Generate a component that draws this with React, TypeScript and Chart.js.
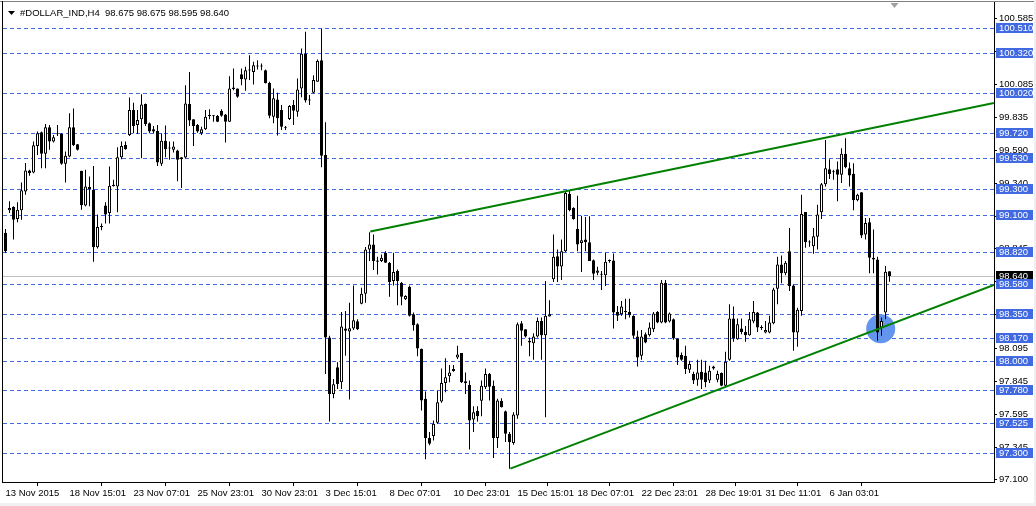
import React, { useEffect, useRef } from 'react';
import { Chart, registerables } from 'chart.js';

Chart.register(...registerables);

// ---- OHLC data (H4 bars, index 0 = 13 Nov 2015) ----
const opens = [
  98.965, 99.135, 99.161, 99.070, 99.135, 99.278, 99.436, 99.421, 99.622, 99.725,
  99.562, 99.762, 99.655, 99.712, 99.712, 99.487, 99.542, 99.762, 99.634, 99.434,
  99.171, 99.296, 99.291, 98.857, 99.010, 99.171, 99.115, 99.329, 99.316, 99.537,
  99.629, 99.705, 99.893, 99.780, 99.823, 99.938, 99.793, 99.747, 99.735, 99.487,
  99.660, 99.604, 99.592, 99.587, 99.537, 99.534, 99.938, 99.823, 99.780, 99.717,
  99.747, 99.848, 99.845, 99.848, 99.888, 99.860, 99.805, 100.063, 100.056, 100.164,
  100.124, 100.191, 100.181, 100.221, 100.221, 100.194, 100.098, 99.843, 99.973, 99.893,
  99.760, 99.825, 99.930, 99.880, 100.056, 100.319, 99.965, 100.023, 100.106, 100.269,
  99.554, 98.175, 97.748, 97.949, 97.836, 98.242, 98.220, 98.242, 98.298, 98.430,
  98.506, 98.839, 98.877, 98.756, 98.752, 98.814, 98.739, 98.601, 98.676, 98.588,
  98.463, 98.558, 98.350, 98.275, 98.087, 97.711, 97.415, 97.430, 97.530, 97.691,
  97.831, 97.881, 97.921, 98.024, 98.057, 97.844, 97.816, 97.555, 97.620, 97.696,
  97.798, 97.899, 97.811, 97.415, 97.696, 97.618, 97.447, 97.377, 97.585, 98.283,
  98.237, 98.150, 98.132, 98.182, 98.300, 98.192, 98.333, 98.614, 98.789, 98.710,
  98.827, 99.261, 99.153, 98.995, 98.889, 98.915, 98.895, 98.759, 98.664, 98.649,
  98.644, 98.752, 98.757, 98.368, 98.350, 98.368, 98.368, 98.338, 98.182, 98.037,
  98.200, 98.192, 98.237, 98.368, 98.288, 98.589, 98.295, 98.313, 98.167, 98.042,
  98.037, 97.931, 97.899, 97.856, 97.916, 97.911, 97.849, 97.941, 97.856, 97.906,
  97.811, 98.007, 98.318, 98.162, 98.242, 98.217, 98.192, 98.295, 98.363, 98.250,
  98.212, 98.212, 98.283, 98.543, 98.726, 98.659, 98.827, 98.568, 98.212, 98.375,
  99.123, 98.895, 98.864, 98.935, 99.120, 99.333, 99.446, 99.424, 99.446, 99.404,
  99.562, 99.454, 99.411, 99.211, 99.271, 98.952, 99.045, 98.777, 98.764, 98.250,
  98.363, 98.675,
];
const highs = [
  98.995, 99.203, 99.166, 99.196, 99.346, 99.492, 99.441, 99.655, 99.730, 99.730,
  99.788, 99.780, 99.705, 99.780, 99.717, 99.579, 99.868, 99.905, 99.637, 99.434,
  99.441, 99.391, 99.471, 99.103, 99.035, 99.196, 99.466, 99.366, 99.612, 99.655,
  99.655, 99.988, 99.948, 99.893, 100.013, 99.943, 99.798, 99.772, 99.780, 99.717,
  99.777, 99.655, 99.655, 99.592, 99.537, 100.081, 100.181, 99.823, 99.788, 99.767,
  99.893, 99.898, 99.855, 99.855, 99.898, 99.862, 100.149, 100.206, 100.056, 100.206,
  100.219, 100.307, 100.257, 100.269, 100.244, 100.199, 100.106, 100.056, 100.023, 99.930,
  99.772, 99.930, 99.968, 100.131, 100.357, 100.485, 100.006, 100.156, 100.274, 100.507,
  99.800, 98.187, 97.861, 97.987, 98.368, 98.375, 98.438, 98.568, 98.313, 98.551,
  98.859, 98.970, 98.952, 98.784, 98.802, 98.827, 98.744, 98.814, 98.689, 98.593,
  98.493, 98.568, 98.363, 98.283, 98.092, 97.766, 97.460, 97.548, 97.773, 97.941,
  98.017, 97.966, 97.966, 98.112, 98.057, 97.911, 97.849, 97.656, 97.656, 97.849,
  97.941, 97.906, 97.849, 97.711, 97.716, 97.623, 97.460, 97.610, 98.288, 98.300,
  98.237, 98.175, 98.207, 98.325, 98.325, 98.601, 98.456, 98.952, 98.839, 98.914,
  99.278, 99.286, 99.158, 99.246, 99.095, 99.085, 99.090, 98.764, 98.709, 98.676,
  98.814, 98.764, 98.809, 98.413, 98.451, 98.468, 98.468, 98.343, 98.225, 98.232,
  98.212, 98.288, 98.368, 98.375, 98.609, 98.609, 98.363, 98.318, 98.167, 98.062,
  98.112, 97.999, 97.916, 98.007, 98.007, 97.999, 97.962, 97.962, 97.924, 97.911,
  98.067, 98.426, 98.408, 98.318, 98.318, 98.262, 98.368, 98.451, 98.368, 98.268,
  98.300, 98.338, 98.551, 98.784, 98.794, 98.752, 99.002, 98.576, 98.400, 99.253,
  99.123, 98.910, 99.002, 99.178, 99.341, 99.667, 99.522, 99.441, 99.504, 99.604,
  99.680, 99.496, 99.491, 99.261, 99.271, 99.078, 99.078, 98.990, 98.784, 98.325,
  98.714, 98.675,
];
const lows = [
  98.814, 99.115, 98.915, 99.045, 99.065, 99.253, 99.396, 99.416, 99.554, 99.454,
  99.454, 99.592, 99.647, 99.697, 99.479, 99.346, 99.537, 99.622, 99.587, 99.140,
  99.166, 99.166, 98.747, 98.847, 98.985, 99.035, 99.035, 99.316, 99.120, 99.522,
  99.592, 99.697, 99.717, 99.712, 99.529, 99.772, 99.717, 99.717, 99.471, 99.471,
  99.537, 99.517, 99.572, 99.354, 99.303, 99.529, 99.772, 99.622, 99.722, 99.705,
  99.742, 99.823, 99.805, 99.803, 99.843, 99.647, 99.805, 100.043, 99.986, 100.081,
  100.038, 100.119, 100.086, 100.199, 100.194, 100.093, 99.830, 99.793, 99.700, 99.742,
  99.742, 99.818, 99.780, 99.843, 99.990, 99.950, 99.930, 100.018, 100.106, 99.461,
  97.899, 97.540, 97.716, 97.786, 97.786, 98.037, 97.706, 98.232, 98.232, 98.425,
  98.438, 98.752, 98.684, 98.651, 98.744, 98.739, 98.483, 98.568, 98.418, 98.418,
  98.458, 98.333, 98.225, 98.032, 97.623, 97.254, 97.360, 97.397, 97.523, 97.681,
  97.761, 97.836, 97.916, 98.012, 97.831, 97.748, 97.329, 97.460, 97.540, 97.580,
  97.786, 97.698, 97.264, 97.340, 97.645, 97.385, 97.184, 97.365, 97.560, 98.112,
  98.175, 98.032, 98.007, 98.175, 98.007, 97.573, 98.333, 98.593, 98.593, 98.609,
  98.820, 99.128, 99.065, 98.827, 98.669, 98.827, 98.752, 98.609, 98.644, 98.533,
  98.563, 98.739, 98.242, 98.300, 98.338, 98.313, 98.325, 98.167, 97.956, 98.007,
  98.132, 98.182, 98.217, 98.283, 98.283, 98.283, 98.288, 98.157, 97.967, 97.999,
  97.899, 97.906, 97.823, 97.811, 97.786, 97.798, 97.831, 97.931, 97.836, 97.806,
  97.806, 97.999, 98.142, 98.157, 98.200, 98.142, 98.187, 98.283, 98.217, 98.232,
  98.207, 98.207, 98.275, 98.426, 98.584, 98.644, 98.526, 98.075, 98.105, 98.338,
  98.852, 98.860, 98.807, 98.839, 99.070, 99.316, 99.371, 99.366, 99.203, 99.341,
  99.454, 99.316, 99.135, 99.203, 98.927, 98.915, 98.659, 98.659, 98.150, 98.187,
  98.313, 98.595,
];
const closes = [
  98.827, 99.153, 99.065, 99.140, 99.286, 99.436, 99.416, 99.627, 99.717, 99.562,
  99.762, 99.655, 99.687, 99.710, 99.487, 99.547, 99.762, 99.629, 99.592, 99.173,
  99.316, 99.311, 98.857, 99.010, 99.013, 99.103, 99.321, 99.318, 99.537, 99.622,
  99.597, 99.893, 99.772, 99.818, 99.935, 99.788, 99.730, 99.730, 99.497, 99.660,
  99.597, 99.602, 99.617, 99.517, 99.522, 99.943, 99.813, 99.772, 99.730, 99.747,
  99.843, 99.850, 99.850, 99.805, 99.850, 99.805, 100.056, 100.051, 99.993, 100.126,
  100.194, 100.194, 100.231, 100.224, 100.224, 100.098, 99.850, 99.981, 99.830, 99.767,
  99.762, 99.923, 99.888, 100.048, 100.319, 99.965, 99.966, 100.119, 100.264, 99.547,
  98.175, 97.748, 97.821, 97.824, 98.257, 98.225, 98.245, 98.305, 98.237, 98.506,
  98.839, 98.877, 98.752, 98.746, 98.777, 98.739, 98.593, 98.669, 98.601, 98.483,
  98.488, 98.338, 98.267, 98.092, 97.698, 97.415, 97.372, 97.523, 97.686, 97.831,
  97.874, 97.911, 97.936, 98.047, 97.836, 97.829, 97.548, 97.610, 97.580, 97.811,
  97.899, 97.803, 97.415, 97.698, 97.648, 97.447, 97.385, 97.593, 98.275, 98.225,
  98.182, 98.137, 98.182, 98.300, 98.192, 98.338, 98.350, 98.784, 98.710, 98.827,
  99.266, 99.135, 99.070, 98.877, 98.909, 98.895, 98.752, 98.656, 98.681, 98.651,
  98.747, 98.757, 98.363, 98.338, 98.408, 98.370, 98.343, 98.187, 98.024, 98.182,
  98.137, 98.250, 98.355, 98.288, 98.589, 98.288, 98.355, 98.167, 98.024, 98.007,
  97.936, 97.974, 97.849, 97.911, 97.856, 97.836, 97.924, 97.956, 97.899, 97.811,
  97.992, 98.318, 98.167, 98.275, 98.217, 98.192, 98.313, 98.368, 98.250, 98.247,
  98.232, 98.288, 98.538, 98.726, 98.659, 98.739, 98.563, 98.212, 98.385, 99.108,
  98.895, 98.893, 98.940, 99.103, 99.333, 99.454, 99.409, 99.422, 99.404, 99.562,
  99.461, 99.399, 99.211, 99.253, 98.945, 99.040, 98.777, 98.764, 98.212, 98.300,
  98.671, 98.640,
];

// ---- axis labels ----
const dateLabelBars = [0, 16, 32, 48, 64, 80, 96, 112, 128, 143, 159, 175, 190, 206];
const dateLabels = [
  '13 Nov 2015', '18 Nov 15:01', '23 Nov 07:01', '25 Nov 23:01', '30 Nov 23:01',
  '3 Dec 15:01', '8 Dec 07:01', '10 Dec 23:01', '15 Dec 15:01', '18 Dec 07:01',
  '22 Dec 23:01', '28 Dec 19:01', '31 Dec 11:01', '6 Jan 03:01',
];
const priceTicks = [
  100.585, 100.335, 100.085, 99.835, 99.59, 99.34, 99.09, 98.845, 98.595,
  98.345, 98.095, 97.845, 97.595, 97.345, 97.1,
];

// ---- drawn objects ----
const levelPrices = [
  100.51, 100.32, 100.02, 99.72, 99.53, 99.3, 99.1, 98.82, 98.58, 98.35,
  98.17, 98.0, 97.78, 97.525, 97.3,
];
const currentPrice = 98.64;
const upperTrendX = [91.2, 247.1];
const upperTrendY = [98.975, 99.946];
const lowerTrendX = [126.2, 247.1];
const lowerTrendY = [97.184, 98.571];
const markerX = [218.8];
const markerY = [98.24];
const headerText = '#DOLLAR_IND,H4  98.675 98.675 98.595 98.640';

const FONT = 'Liberation Sans';
const LEVEL_COLOR = '#4169E1';

const overlayPlugin = {
  id: 'mtOverlay',
  beforeDatasetsDraw(chart: any) {
    const { ctx, chartArea, scales } = chart;
    const y = scales.y;
    ctx.save();
    ctx.lineWidth = 1;
    const cy = Math.round(y.getPixelForValue(currentPrice)) + 0.5;
    ctx.strokeStyle = '#c0c0c0';
    ctx.setLineDash([]);
    ctx.beginPath();
    ctx.moveTo(chartArea.left, cy);
    ctx.lineTo(chartArea.right, cy);
    ctx.stroke();
    ctx.strokeStyle = LEVEL_COLOR;
    ctx.setLineDash([4, 3]);
    for (const p of levelPrices) {
      const py = Math.round(y.getPixelForValue(p)) + 0.5;
      ctx.beginPath();
      ctx.moveTo(chartArea.left, py);
      ctx.lineTo(chartArea.right, py);
      ctx.stroke();
    }
    ctx.restore();
  },
  afterDraw(chart: any) {
    const { ctx, chartArea, scales, width, height } = chart;
    const y = scales.y;
    const x = scales.x;
    ctx.save();
    ctx.font = `9.5px "${FONT}"`;
    ctx.textBaseline = 'middle';
    ctx.textAlign = 'left';
    const boxX = chartArea.right + 2;
    const boxW = 37;
    const drawBox = (p: number, bg: string) => {
      const py = Math.round(y.getPixelForValue(p));
      ctx.fillStyle = bg;
      ctx.fillRect(boxX, py - 5, boxW, 10);
      ctx.fillStyle = '#ffffff';
      ctx.fillText(p.toFixed(3), boxX + 3, py + 0.5);
    };
    drawBox(currentPrice, '#000000');
    for (const p of levelPrices) drawBox(p, LEVEL_COLOR);

    // header
    ctx.fillStyle = '#000';
    ctx.beginPath();
    ctx.moveTo(chartArea.left + 5, 11);
    ctx.lineTo(chartArea.left + 12, 11);
    ctx.lineTo(chartArea.left + 8.5, 15);
    ctx.closePath();
    ctx.fill();
    ctx.fillText(headerText, chartArea.left + 17, 13.5);

    // chart shift marker (gray triangle right of the last bar)
    const sx = Math.round(x.getPixelForValue(opens.length)) + 0.5;
    ctx.fillStyle = '#a0a0a0';
    ctx.beginPath();
    ctx.moveTo(sx - 4, chartArea.top + 1);
    ctx.lineTo(sx + 4, chartArea.top + 1);
    ctx.lineTo(sx, chartArea.top + 6);
    ctx.closePath();
    ctx.fill();

    // window frame
    ctx.strokeStyle = '#808080';
    ctx.lineWidth = 1;
    ctx.beginPath();
    ctx.moveTo(0, 1.5);
    ctx.lineTo(width, 1.5);
    ctx.stroke();
    ctx.strokeStyle = '#000';
    ctx.beginPath();
    ctx.moveTo(chartArea.left - 0.5, 1);
    ctx.lineTo(chartArea.left - 0.5, chartArea.bottom + 1);
    ctx.stroke();
    ctx.fillStyle = '#f0f0f0';
    ctx.fillRect(0, height - 3, width, 3);
    ctx.fillRect(width - 2, 0, 2, height);
    ctx.restore();
  },
};

export default function App() {
  const ref = useRef<HTMLCanvasElement>(null);
  useEffect(() => {
    document.body.style.margin = '0';
    const bodies = opens.map((o, i) => ({ x: i, y: [Math.min(o, closes[i]), Math.max(o, closes[i])] }));
    const wicks = highs.map((h, i) => ({ x: i, y: [lows[i], h] }));
    const isBull = (i: number) => closes[i] >= opens[i];
    const tickFont = { family: FONT, size: 9.5 };
    const chart = new Chart(ref.current as HTMLCanvasElement, {
      type: 'bar',
      data: {
        datasets: [
          {
            type: 'line',
            data: markerX.map((x, i) => ({ x, y: markerY[i] })),
            showLine: false,
            pointRadius: 14.5,
            pointBackgroundColor: 'rgb(100,149,237)',
            pointBorderWidth: 0,
            order: 10,
          } as any,
          {
            type: 'bar',
            data: wicks,
            backgroundColor: '#000',
            borderWidth: 0,
            barThickness: 1,
            grouped: false,
            inflateAmount: 0,
            order: 6,
          } as any,
          {
            type: 'bar',
            data: bodies,
            backgroundColor: (c: any) => (isBull(c.dataIndex) ? '#ffffff' : '#000000'),
            borderColor: '#000',
            borderWidth: 1,
            borderSkipped: false,
            barThickness: 3,
            minBarLength: 1,
            grouped: false,
            inflateAmount: 0,
            order: 5,
          } as any,
          {
            type: 'line',
            data: upperTrendX.map((x, i) => ({ x, y: upperTrendY[i] })),
            borderColor: '#008000',
            borderWidth: 2,
            pointRadius: 0,
            order: 1,
          } as any,
          {
            type: 'line',
            data: lowerTrendX.map((x, i) => ({ x, y: lowerTrendY[i] })),
            borderColor: '#008000',
            borderWidth: 2,
            pointRadius: 0,
            order: 1,
          } as any,
        ],
      },
      options: {
        animation: false,
        responsive: false,
        devicePixelRatio: 1,
        layout: { autoPadding: false, padding: { left: 3, top: 2, right: 0, bottom: 0 } },
        plugins: { legend: { display: false }, tooltip: { enabled: false } },
        scales: {
          x: {
            type: 'linear',
            min: -0.625,
            max: 247.125,
            offset: false,
            afterBuildTicks: (s: any) => {
              s.ticks = dateLabelBars.map((v) => ({ value: v }));
            },
            afterFit: (s: any) => {
              s.height = 24;
              s.paddingLeft = 0;
              s.paddingRight = 0;
            },
            ticks: {
              autoSkip: false,
              maxRotation: 0,
              align: 'start',
              padding: 2,
              color: '#000',
              font: tickFont,
              callback: (v: any) => {
                const k = dateLabelBars.indexOf(Number(v));
                return k >= 0 ? dateLabels[k] : '';
              },
            },
            grid: { drawOnChartArea: false, drawTicks: true, tickLength: 4, color: '#000' },
            border: { display: true, color: '#000' },
          },
          y: {
            type: 'linear',
            position: 'right',
            min: 97.083,
            max: 100.709,
            afterBuildTicks: (s: any) => {
              s.ticks = priceTicks.map((v) => ({ value: v }));
            },
            afterFit: (s: any) => {
              s.width = 42;
              s.paddingTop = 0;
              s.paddingBottom = 0;
            },
            ticks: {
              autoSkip: false,
              padding: 2,
              color: '#000',
              font: tickFont,
              callback: (v: any) => Number(v).toFixed(3),
            },
            grid: { drawOnChartArea: false, drawTicks: true, tickLength: 3, color: '#000' },
            border: { display: true, color: '#000' },
          },
        },
      } as any,
      plugins: [overlayPlugin],
    });
    return () => chart.destroy();
  }, []);
  return (
    <canvas
      ref={ref}
      width={1036}
      height={506}
      style={{ display: 'block', width: 1036, height: 506, background: '#fff' }}
    />
  );
}
